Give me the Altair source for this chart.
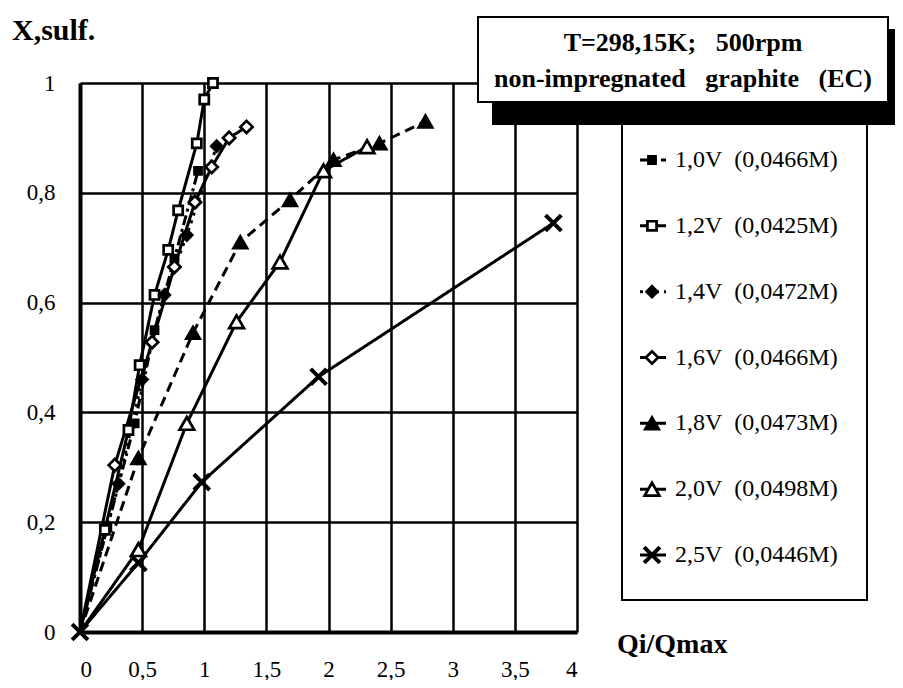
import altair as alt
import pandas as pd

# ---------------- data ----------------
series = ["1.0V", "1.2V", "1.4V", "1.6V", "1.8V", "2.0V", "2.5V"]
labels = ["1,0V\u00a0\u00a0(0,0466M)", "1,2V\u00a0\u00a0(0,0425M)", "1,4V\u00a0\u00a0(0,0472M)",
          "1,6V\u00a0\u00a0(0,0466M)", "1,8V\u00a0\u00a0(0,0473M)", "2,0V\u00a0\u00a0(0,0498M)",
          "2,5V\u00a0\u00a0(0,0446M)"]

x_10 = [0, 0.22, 0.44, 0.60, 0.76, 0.95]
y_10 = [0, 0.19, 0.38, 0.55, 0.68, 0.84]

x_12 = [0, 0.20, 0.39, 0.48, 0.60, 0.71, 0.79, 0.94, 1.00, 1.07]
y_12 = [0, 0.186, 0.368, 0.486, 0.614, 0.696, 0.768, 0.89, 0.97, 1.00]

x_14 = [0, 0.31, 0.50, 0.68, 0.86, 1.10]
y_14 = [0, 0.27, 0.46, 0.614, 0.723, 0.885]

x_16 = [0, 0.28, 0.58, 0.76, 0.925, 1.06, 1.20, 1.34]
y_16 = [0, 0.304, 0.528, 0.665, 0.783, 0.847, 0.90, 0.92]

x_18 = [0, 0.47, 0.91, 1.29, 1.69, 2.04, 2.41, 2.78]
y_18 = [0, 0.317, 0.545, 0.71, 0.787, 0.86, 0.89, 0.93]

x_20 = [0, 0.47, 0.86, 1.26, 1.61, 1.96, 2.31]
y_20 = [0, 0.15, 0.38, 0.565, 0.674, 0.84, 0.884]

x_25 = [0, 0.47, 0.98, 1.92, 3.81]
y_25 = [0, 0.126, 0.273, 0.465, 0.745]

x_ticks = [0, 0.5, 1, 1.5, 2, 2.5, 3, 3.5, 4]
y_ticks = [0, 0.2, 0.4, 0.6, 0.8, 1]

title_line1 = "T=298,15K;\u00a0\u00a0\u00a0500rpm"
title_line2 = "non-impregnated\u00a0\u00a0\u00a0graphite\u00a0\u00a0\u00a0(EC)"
y_title = "X,sulf."
x_title = "Qi/Qmax"

# ---------------- styles ----------------
X_PATH = "M-1,-1L1,1M-1,1L1,-1"
shapes = ["square", "square", "diamond", "diamond", "triangle-up", "triangle-up", X_PATH]
fills = ["black", "white", "black", "white", "black", "white", "white"]
sizes = [50, 250, 65, 290, 45, 300, 300]
dashes = [[10, 4, 3, 4], [1, 0], [3, 5], [1, 0], [10, 6], [1, 0], [1, 0]]

FONT = "Liberation Serif"

rows = []
for s, xs, ys in zip(series, [x_10, x_12, x_14, x_16, x_18, x_20, x_25],
                     [y_10, y_12, y_14, y_16, y_18, y_20, y_25]):
    for i, (a, b) in enumerate(zip(xs, ys)):
        rows.append({"series": s, "x": a, "y": b, "i": i})
df = pd.DataFrame(rows)
leg = pd.DataFrame({"series": series, "label": labels})

dash_scale = alt.Scale(domain=series, range=dashes)
shape_scale = alt.Scale(domain=series, range=shapes)
fill_scale = alt.Scale(domain=series, range=fills)
size_scale = alt.Scale(domain=series, range=sizes)

lab_expr = "replace(datum.label, '.', ',')"
x_axis = alt.Axis(values=x_ticks, format="~g", labelExpr=lab_expr, title=None, grid=True,
                  gridColor="black", gridWidth=2.5, gridOpacity=1, domainColor="black",
                  domainWidth=4, ticks=False, labelPadding=26, labelFont=FONT,
                  labelFontSize=23, labelColor="black")
y_axis = alt.Axis(values=y_ticks, format="~g", labelExpr=lab_expr, title=None, grid=True,
                  gridColor="black", gridWidth=2.5, gridOpacity=1, domainColor="black",
                  domainWidth=4, ticks=False, labelPadding=25, labelFont=FONT,
                  labelFontSize=23, labelColor="black")
xs_ = alt.Scale(domain=[0, 4], nice=False)
ys_ = alt.Scale(domain=[0, 1], nice=False)

lines = alt.Chart(df).mark_line(color="black", strokeWidth=3).encode(
    x=alt.X("x:Q", scale=xs_, axis=x_axis),
    y=alt.Y("y:Q", scale=ys_, axis=y_axis),
    detail="series:N",
    order="i:Q",
    strokeDash=alt.StrokeDash("series:N", scale=dash_scale, legend=None),
)

def pts(data, x_enc, y_enc, is_x):
    sel = alt.FieldEqualPredicate(field="series", equal="2.5V")
    ch = alt.Chart(data)
    if is_x:
        ch = ch.transform_filter(sel)
    else:
        ch = ch.transform_filter(alt.LogicalNotPredicate(**{"not": sel}))
    return ch.mark_point(filled=True, stroke="black", opacity=1, fillOpacity=1,
                         strokeOpacity=1, strokeWidth=4 if is_x else 2.7).encode(
        x=x_enc, y=y_enc,
        shape=alt.Shape("series:N", scale=shape_scale, legend=None),
        fill=alt.Fill("series:N", scale=fill_scale, legend=None),
        size=alt.Size("series:N", scale=size_scale, legend=None),
    )

df_mk = df[(df["x"] > 0) | (df["series"] == "2.5V")]
xe = alt.X("x:Q", scale=xs_, axis=x_axis)
ye = alt.Y("y:Q", scale=ys_, axis=y_axis)
points = pts(df_mk, xe, ye, False)
points_x = pts(df_mk, xe, ye, True)

main = alt.layer(lines, points, points_x)

one = alt.Data(values=[{"a": 1}])

def rect(x1, x2, y1, y2, fill, stroke=None, sw=0):
    kw = {"fill": fill}
    if stroke:
        kw.update(stroke=stroke, strokeWidth=sw)
    return alt.Chart(one).mark_rect(**kw).encode(
        x=alt.value(x1), x2=alt.value(x2), y=alt.value(y1), y2=alt.value(y2))

def text(t, x, y, size, bold=False, align="left"):
    return alt.Chart(one).mark_text(text=t, font=FONT, fontSize=size,
                                    fontWeight="bold" if bold else "normal",
                                    align=align, baseline="middle", color="black").encode(
        x=alt.value(x), y=alt.value(y))

legend_box = rect(542, 787, 30, 517, "white", "black", 2)
shadow = rect(412, 830, -54, 42, "black")
title_box = rect(398, 808, -66, 19, "white", "black", 2)

leg_y = alt.Y("series:N", scale=alt.Scale(type="point", domain=series, range=[77, 472], padding=0),
              axis=None)
leg_lines = alt.Chart(leg).mark_rule(color="black", strokeWidth=3).encode(
    x=alt.value(560), x2=alt.value(586), y=leg_y,
    strokeDash=alt.StrokeDash("series:N", scale=dash_scale, legend=None),
)
leg_pts = pts(leg, alt.value(572), leg_y, False)
leg_pts_x = pts(leg, alt.value(572), leg_y, True)
leg_txt = alt.Chart(leg).mark_text(font=FONT, fontSize=24, align="left", baseline="middle",
                                   color="black").encode(
    x=alt.value(595), y=leg_y, text="label:N")
legend = alt.layer(leg_lines, leg_pts, leg_pts_x, leg_txt)

chart = alt.layer(
    main,
    legend_box,
    shadow,
    title_box,
    text(title_line1, 603, -40, 26, bold=True, align="center"),
    text(title_line2, 603, -4, 26, bold=True, align="center"),
    text(y_title, -68, -52, 30, bold=True),
    text(x_title, 537, 562, 28, bold=True),
    legend,
).resolve_scale(y="independent").properties(
    width=497, height=549, autosize="none",
    padding={"left": 72, "top": 75, "right": 318, "bottom": 48},
).configure_view(stroke=None)

chart.save("out.html", embed_options={"renderer": "svg", "actions": False})
